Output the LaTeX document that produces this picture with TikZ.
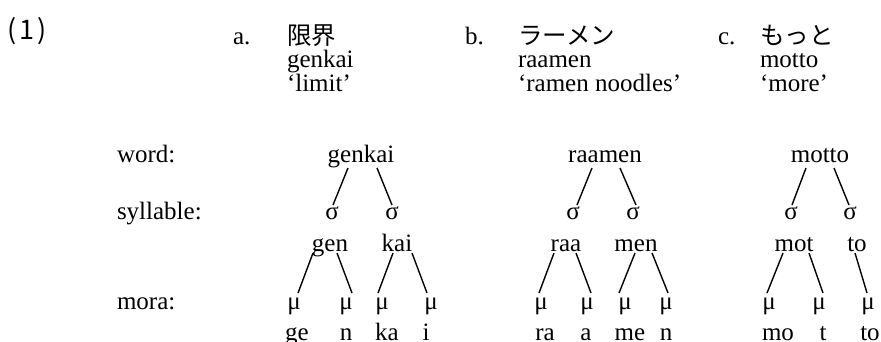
\documentclass[tikz,border=0pt]{standalone}
\usepackage{fontspec}
\setmainfont{Liberation Serif}
\newfontfamily\jpfont{Noto Sans CJK JP}
\begin{document}
\begin{tikzpicture}[x=1pt,y=-1pt,
  every node/.style={inner sep=0pt,outer sep=0pt,font=\fontsize{25}{30}\selectfont},
  lbl/.style={anchor=base west},
  t/.style={anchor=base},
  jp/.style={anchor=base west,font=\fontsize{24.5}{30}\selectfont\jpfont},
  edge/.style={line width=1.4pt}]
\useasboundingbox (0,0) rectangle (881,341);
% header
\node[jp,font=\fontsize{27}{30}\selectfont\jpfont] (ex) at (8,39) {(\kern2.5pt1\kern2.5pt)};
\node[lbl] (la) at (233,44) {a.};
\node[jp] (ja) at (287,44) {限界};
\node[lbl] (ra) at (287,67) {genkai};
\node[lbl] (ga) at (287,91) {‘limit’};
\node[lbl] (lb) at (465,44) {b.};
\node[jp] (jb) at (518,44) {ラーメン};
\node[lbl] (rb) at (518,67) {raamen};
\node[lbl] (gb) at (518,91) {‘ramen noodles’};
\node[lbl] (lc) at (718,44) {c.};
\node[jp] (jc) at (760,44) {もっと};
\node[lbl] (rc) at (760,67) {motto};
\node[lbl] (gc) at (760,91) {‘more’};
% level labels
\node[lbl] (Lw) at (117,162) {word:};
\node[lbl] (Ls) at (117,219) {syllable:};
\node[lbl] (Lm) at (117,309) {mora:};
% tree a
\node[t] (wa) at (361,162) {genkai};
\node[t] (sa1) at (332,219) {σ};
\node[t] (sa2) at (392,219) {σ};
\node[t] (ya1) at (330,251) {gen};
\node[t] (ya2) at (397,251) {kai};
\node[t] (ma1) at (294,309) {μ};
\node[t] (ma2) at (346,309) {μ};
\node[t] (ma3) at (382,309) {μ};
\node[t] (ma4) at (431,309) {μ};
\node[t] (pa1) at (297,340) {ge};
\node[t] (pa2) at (346,340) {n};
\node[t] (pa3) at (387,340) {ka};
\node[t] (pa4) at (426,340) {i};
\draw[edge] ([shift={(-13,6)}]wa.base) -- ([shift={(1,-14)}]sa1.base);
\draw[edge] ([shift={(16,6)}]wa.base) -- ([shift={(0,-14)}]sa2.base);
\draw[edge] ([shift={(-17,2)}]ya1.base) -- ([shift={(4,-16)}]ma1.base);
\draw[edge] ([shift={(7,2)}]ya1.base) -- ([shift={(6,-16)}]ma2.base);
\draw[edge] ([shift={(-4,2)}]ya2.base) -- ([shift={(-4,-16)}]ma3.base);
\draw[edge] ([shift={(15,2)}]ya2.base) -- ([shift={(-4,-16)}]ma4.base);
% tree b
\node[t] (wb) at (605,162) {raamen};
\node[t] (sb1) at (573,219) {σ};
\node[t] (sb2) at (633,219) {σ};
\node[t] (yb1) at (566,251) {raa};
\node[t] (yb2) at (636,251) {men};
\node[t] (mb1) at (541,309) {μ};
\node[t] (mb2) at (587,309) {μ};
\node[t] (mb3) at (625,309) {μ};
\node[t] (mb4) at (666,309) {μ};
\node[t] (pb1) at (545,340) {ra};
\node[t] (pb2) at (586,340) {a};
\node[t] (pb3) at (630,340) {me};
\node[t] (pb4) at (666,340) {n};
\draw[edge] ([shift={(-13,6)}]wb.base) -- ([shift={(4,-14)}]sb1.base);
\draw[edge] ([shift={(15,6)}]wb.base) -- ([shift={(3,-14)}]sb2.base);
\draw[edge] ([shift={(-12,2)}]yb1.base) -- ([shift={(-2,-16)}]mb1.base);
\draw[edge] ([shift={(10,2)}]yb1.base) -- ([shift={(4,-16)}]mb2.base);
\draw[edge] ([shift={(-1,2)}]yb2.base) -- ([shift={(-6,-16)}]mb3.base);
\draw[edge] ([shift={(16,2)}]yb2.base) -- ([shift={(2,-16)}]mb4.base);
% tree c
\node[t] (wc) at (820,162) {motto};
\node[t] (sc1) at (791,219) {σ};
\node[t] (sc2) at (850,219) {σ};
\node[t] (yc1) at (794,251) {mot};
\node[t] (yc2) at (857,251) {to};
\node[t] (mc1) at (769,309) {μ};
\node[t] (mc2) at (819,309) {μ};
\node[t] (mc3) at (868,309) {μ};
\node[t] (pc1) at (778,340) {mo};
\node[t] (pc2) at (823,340) {t};
\node[t] (pc3) at (870,340) {to};
\draw[edge] ([shift={(-14,6)}]wc.base) -- ([shift={(1,-14)}]sc1.base);
\draw[edge] ([shift={(14,6)}]wc.base) -- ([shift={(-1,-14)}]sc2.base);
\draw[edge] ([shift={(-11,2)}]yc1.base) -- ([shift={(-2,-16)}]mc1.base);
\draw[edge] ([shift={(15,2)}]yc1.base) -- ([shift={(4,-16)}]mc2.base);
\draw[edge] ([shift={(-2,2)}]yc2.base) -- ([shift={(-1,-16)}]mc3.base);
\end{tikzpicture}
\end{document}
